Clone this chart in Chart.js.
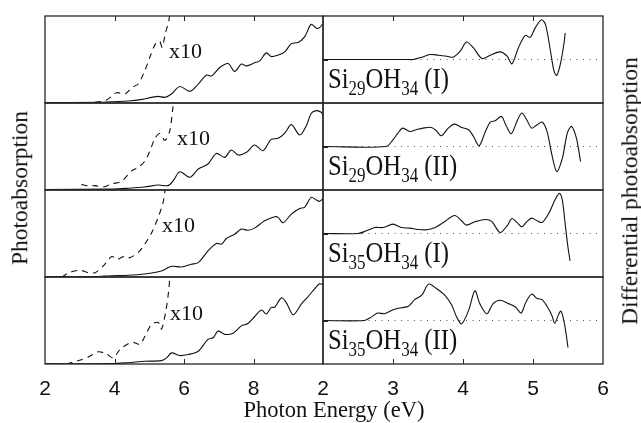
<!DOCTYPE html>
<html>
<head>
<meta charset="utf-8">
<script src="https://cdn.jsdelivr.net/npm/chart.js@4.4.1/dist/chart.umd.min.js"></script>
<style>
  body { margin: 0; background: #fff; }
  #fig { position: relative; width: 641px; height: 423px; overflow: hidden; background: #fff; }
  #fig canvas { position: absolute; }
  .t { position: absolute; white-space: nowrap; line-height: 1; color: #111;
       font-family: "Liberation Serif", "Times New Roman", serif; }
  .rot { transform: translate(-50%, -50%) rotate(-90deg); }
  .mol { font-size: 29px; transform: scaleX(0.85); transform-origin: left center; }
  .mol span { font-size: 20px; position: relative; top: 7px; }
</style>
</head>
<body>
<div id="fig"></div>
<script>
// photoabsorption (left column), energies in eV
const absE1 = [2.0, 3.6, 3.9, 4.4, 4.8, 5.07, 5.26, 5.45, 5.64, 5.88, 6.17, 6.41, 6.65, 6.79, 7.03, 7.27, 7.46, 7.65, 7.8, 8.03, 8.18, 8.37, 8.51, 8.7, 8.9, 9.09, 9.28, 9.47, 9.66, 9.81, 9.9, 10.0];
const absY1 = [0.005, 0.008, 0.015, 0.023, 0.042, 0.065, 0.076, 0.065, 0.103, 0.19, 0.134, 0.218, 0.321, 0.309, 0.408, 0.454, 0.363, 0.447, 0.427, 0.462, 0.485, 0.576, 0.534, 0.55, 0.588, 0.683, 0.695, 0.76, 0.905, 0.859, 0.866, 0.912];
const absE2 = [2.0, 3.9, 4.4, 4.87, 5.26, 5.54, 5.69, 5.88, 6.17, 6.41, 6.69, 6.93, 7.17, 7.36, 7.56, 7.8, 8.03, 8.27, 8.51, 8.71, 8.9, 9.09, 9.33, 9.52, 9.66, 9.81, 9.95, 10.0];
const absY2 = [0.005, 0.01, 0.02, 0.034, 0.057, 0.05, 0.107, 0.21, 0.146, 0.241, 0.299, 0.42, 0.375, 0.46, 0.402, 0.433, 0.517, 0.452, 0.582, 0.594, 0.655, 0.751, 0.632, 0.739, 0.88, 0.912, 0.893, 0.86];
const absE3 = [2.0, 3.44, 3.92, 4.39, 4.87, 5.35, 5.64, 5.93, 6.21, 6.41, 6.69, 6.93, 7.08, 7.22, 7.46, 7.65, 7.84, 8.03, 8.32, 8.61, 8.71, 8.85, 9.09, 9.33, 9.47, 9.66, 9.81, 9.9, 10.0];
const absY3 = [0.004, 0.004, 0.015, 0.02, 0.035, 0.069, 0.123, 0.115, 0.146, 0.165, 0.3, 0.385, 0.377, 0.442, 0.492, 0.55, 0.538, 0.562, 0.646, 0.692, 0.685, 0.623, 0.723, 0.788, 0.8, 0.915, 0.885, 0.869, 0.9];
const absE4 = [2.0, 3.92, 4.39, 4.87, 5.35, 5.5, 5.64, 5.88, 6.12, 6.41, 6.69, 6.84, 6.98, 7.17, 7.41, 7.65, 7.84, 8.03, 8.23, 8.37, 8.51, 8.61, 8.8, 8.94, 9.14, 9.38, 9.57, 9.76, 9.9, 10.0];
const absY4 = [0.004, 0.004, 0.015, 0.031, 0.039, 0.07, 0.128, 0.097, 0.109, 0.147, 0.283, 0.302, 0.38, 0.341, 0.353, 0.438, 0.465, 0.543, 0.62, 0.574, 0.651, 0.651, 0.76, 0.709, 0.566, 0.69, 0.775, 0.864, 0.922, 0.91];

// the same spectra magnified ten times near the onset
const x10E1 = [3.44, 3.77, 4.06, 4.3, 4.51, 4.68, 4.87, 5.05, 5.18, 5.3, 5.37, 5.47, 5.56, 5.6];
const x10Y1 = [0.008, 0.034, 0.118, 0.103, 0.179, 0.218, 0.37, 0.56, 0.68, 0.71, 0.64, 0.81, 0.94, 1.05];
const x10E2 = [3.05, 3.25, 3.45, 3.68, 3.92, 4.2, 4.49, 4.68, 4.87, 5.02, 5.16, 5.3, 5.45, 5.59, 5.67, 5.71];
const x10Y2 = [0.065, 0.046, 0.05, 0.034, 0.07, 0.1, 0.22, 0.26, 0.33, 0.45, 0.59, 0.65, 0.57, 0.68, 0.91, 1.05];
const x10E3 = [2.48, 2.72, 3.01, 3.25, 3.44, 3.68, 3.92, 4.09, 4.3, 4.44, 4.68, 4.87, 5.07, 5.26, 5.4, 5.47];
const x10Y3 = [0.0, 0.054, 0.077, 0.05, 0.05, 0.127, 0.235, 0.204, 0.242, 0.223, 0.28, 0.377, 0.51, 0.69, 0.86, 1.05];
const x10E4 = [2.62, 2.81, 3.05, 3.29, 3.53, 3.77, 3.96, 4.16, 4.49, 4.73, 4.83, 5.07, 5.26, 5.35, 5.47, 5.56, 5.6];
const x10Y4 = [0.0, 0.023, 0.05, 0.089, 0.14, 0.116, 0.07, 0.167, 0.25, 0.225, 0.283, 0.457, 0.477, 0.4, 0.593, 0.845, 1.05];

// differential photoabsorption (right column)
const difE1 = [2.0, 3.2, 3.29, 3.41, 3.53, 3.65, 3.77, 3.86, 3.96, 4.05, 4.15, 4.27, 4.39, 4.53, 4.63, 4.7, 4.79, 4.89, 4.96, 5.03, 5.12, 5.18, 5.25, 5.3, 5.34, 5.39, 5.44, 5.46];
const difY1 = [0, 0, 0, 0.053, 0.114, 0.099, 0.076, 0.053, 0.19, 0.403, 0.266, 0.023, 0.099, 0.175, 0.076, -0.099, 0.266, 0.555, 0.51, 0.722, 0.913, 0.798, 0.19, -0.266, -0.365, -0.114, 0.342, 0.608];
const difE2 = [2.0, 2.9, 3.0, 3.07, 3.14, 3.24, 3.33, 3.43, 3.55, 3.62, 3.69, 3.79, 3.88, 3.98, 4.08, 4.15, 4.23, 4.32, 4.39, 4.46, 4.55, 4.61, 4.69, 4.77, 4.84, 4.91, 4.98, 5.06, 5.13, 5.2, 5.27, 5.34, 5.42, 5.49, 5.55, 5.62, 5.68];
const difY2 = [0, 0, 0.154, 0.308, 0.423, 0.346, 0.385, 0.423, 0.438, 0.362, 0.246, 0.423, 0.515, 0.438, 0.385, 0.231, 0.015, 0.346, 0.562, 0.592, 0.692, 0.5, 0.292, 0.577, 0.769, 0.615, 0.423, 0.5, 0.562, 0.346, -0.192, -0.577, -0.269, 0.308, 0.462, 0.192, -0.346];
const difE3 = [2.0, 2.5, 2.62, 2.74, 2.86, 3.0, 3.12, 3.24, 3.36, 3.48, 3.6, 3.72, 3.88, 3.98, 4.05, 4.17, 4.32, 4.41, 4.53, 4.63, 4.7, 4.77, 4.84, 4.91, 4.98, 5.06, 5.13, 5.22, 5.32, 5.38, 5.42, 5.46, 5.5, 5.53];
const difY3 = [0, 0, 0.062, 0.138, 0.138, 0.215, 0.138, 0.123, 0.092, 0.085, 0.138, 0.254, 0.415, 0.292, 0.192, 0.269, 0.323, 0.277, 0.023, 0.177, 0.346, 0.254, 0.154, 0.269, 0.354, 0.292, 0.254, 0.446, 0.792, 0.923, 0.754, 0.215, -0.323, -0.631];
const difE4 = [2.0, 2.59, 2.69, 2.78, 2.88, 3.0, 3.12, 3.22, 3.31, 3.41, 3.51, 3.62, 3.74, 3.84, 3.91, 3.98, 4.08, 4.17, 4.24, 4.34, 4.43, 4.53, 4.65, 4.75, 4.83, 4.9, 4.98, 5.06, 5.13, 5.2, 5.27, 5.31, 5.37, 5.4, 5.45, 5.5];
const difY4 = [0, 0, 0.078, 0.171, 0.155, 0.248, 0.295, 0.326, 0.481, 0.581, 0.837, 0.736, 0.581, 0.349, 0.078, -0.078, 0.233, 0.682, 0.388, 0.155, 0.388, 0.465, 0.388, 0.31, 0.171, 0.426, 0.605, 0.504, 0.481, 0.326, 0.116, -0.062, 0.155, 0.217, -0.078, -0.62];

const sizes = ['29', '29', '35', '35'];
const structures = ['I', 'II', 'I', 'II'];

const leftTicks = [2, 4, 6, 8, 10];
const leftTickLabels = ['2', '4', '6', '8', ''];
const rightTicks = [2, 3, 4, 5, 6];
const rightTickLabels = ['2', '3', '4', '5', '6'];

// panel grid on the page
const colLeft = [45, 323];
const colWidth = [278, 280];
const rowTop = [16, 103, 190, 277];
const rowH = 87;
const MX = 14;

const fig = document.getElementById('fig');

const pts = (xs, ys) => xs.map((x, i) => ({ x: x, y: ys[i] }));

// box, inward ticks and bottom tick labels, all placed through the chart scales
const framePlugin = {
  id: 'frame',
  afterDraw(chart, args, o) {
    const ctx = chart.ctx, a = chart.chartArea;
    const xs = chart.scales.x, ys = chart.scales.y;
    ctx.save();
    ctx.strokeStyle = '#262626';
    ctx.lineWidth = 1.3;
    ctx.strokeRect(a.left, a.top, a.right - a.left, a.bottom - a.top);
    ctx.lineWidth = 1;
    ctx.beginPath();
    o.ticks.slice(1, -1).forEach(v => {
      const px = Math.round(xs.getPixelForValue(v)) + 0.5;
      if (o.top) { ctx.moveTo(px, a.top); ctx.lineTo(px, a.top + 5); }
      if (o.bottom) { ctx.moveTo(px, a.bottom); ctx.lineTo(px, a.bottom - 5); }
    });
    if (o.zeroTick) {
      const py = Math.round(ys.getPixelForValue(0)) + 0.5;
      ctx.moveTo(a.left, py); ctx.lineTo(a.left + 5, py);
    }
    ctx.stroke();
    if (o.bottom) {
      ctx.fillStyle = '#111';
      ctx.font = '21px "Liberation Sans", Arial, sans-serif';
      ctx.textAlign = 'center';
      ctx.textBaseline = 'alphabetic';
      o.ticks.forEach((v, i) => {
        if (o.labels[i]) ctx.fillText(o.labels[i], xs.getPixelForValue(v), a.bottom + 31);
      });
    }
    ctx.restore();
  }
};

function addPanel(col, row, datasets, xmin, xmax, ymin, ymax, frame) {
  const last = row === 3;
  const padB = last ? 40 : 3;
  const c = document.createElement('canvas');
  c.width = colWidth[col] + 2 * MX;
  c.height = rowH + 3 + padB;
  c.style.left = (colLeft[col] - MX) + 'px';
  c.style.top = (rowTop[row] - 3) + 'px';
  fig.appendChild(c);
  new Chart(c, {
    type: 'line',
    data: { datasets: datasets },
    options: {
      responsive: false,
      animation: false,
      events: [],
      layout: { padding: { left: MX, right: MX, top: 3, bottom: padB } },
      elements: { point: { radius: 0 }, line: { tension: 0.3 } },
      plugins: {
        legend: { display: false },
        tooltip: { enabled: false },
        frame: Object.assign({ top: row === 0, bottom: last }, frame)
      },
      scales: {
        x: { type: 'linear', min: xmin, max: xmax, display: false },
        y: { type: 'linear', min: ymin, max: ymax, display: false }
      }
    },
    plugins: [framePlugin]
  });
}

const absE = [absE1, absE2, absE3, absE4], absY = [absY1, absY2, absY3, absY4];
const x10E = [x10E1, x10E2, x10E3, x10E4], x10Y = [x10Y1, x10Y2, x10Y3, x10Y4];
const difE = [difE1, difE2, difE3, difE4], difY = [difY1, difY2, difY3, difY4];

for (let r = 0; r < 4; r++) {
  addPanel(0, r, [
    { data: pts(absE[r], absY[r]), borderColor: '#111', borderWidth: 1.1 },
    { data: pts(x10E[r], x10Y[r]), borderColor: '#111', borderWidth: 1.1, borderDash: [6, 5] }
  ], 2, 10, 0, 1, { ticks: leftTicks, labels: leftTickLabels });

  addPanel(1, r, [
    { data: pts(difE[r], difY[r]), borderColor: '#111', borderWidth: 1.1 },
    { data: pts([2, 6], [0, 0]), borderColor: '#555', borderWidth: 1, borderDash: [1, 5.5], tension: 0 }
  ], 2, 6, -1, 1, { ticks: rightTicks, labels: rightTickLabels, zeroTick: true });
}

// text
function addText(html, cls, style) {
  const d = document.createElement('div');
  d.className = 't ' + cls;
  d.innerHTML = html;
  Object.assign(d.style, style);
  fig.appendChild(d);
}

addText('Photoabsorption', 'rot', { left: '20px', top: '188px', fontSize: '23.5px' });
addText('Differential photoabsorption', 'rot', { left: '630px', top: '191px', fontSize: '23.5px' });
addText('Photon Energy (eV)', '', { left: '334px', top: '399px', fontSize: '22.5px', transform: 'translateX(-50%)' });

const x10Pos = [[169, 58], [177, 145], [162, 232], [170, 320]];
x10Pos.forEach(p => addText('x10', '', { left: p[0] + 'px', top: (p[1] - 18.4) + 'px', fontSize: '22px' }));

const molBase = [88, 175, 262, 349];
molBase.forEach((b, i) => addText(
  'Si<span>' + sizes[i] + '</span>OH<span>34</span> (' + structures[i] + ')',
  'mol', { left: '328px', top: (b - 24.3) + 'px' }));
</script>
</body>
</html>
